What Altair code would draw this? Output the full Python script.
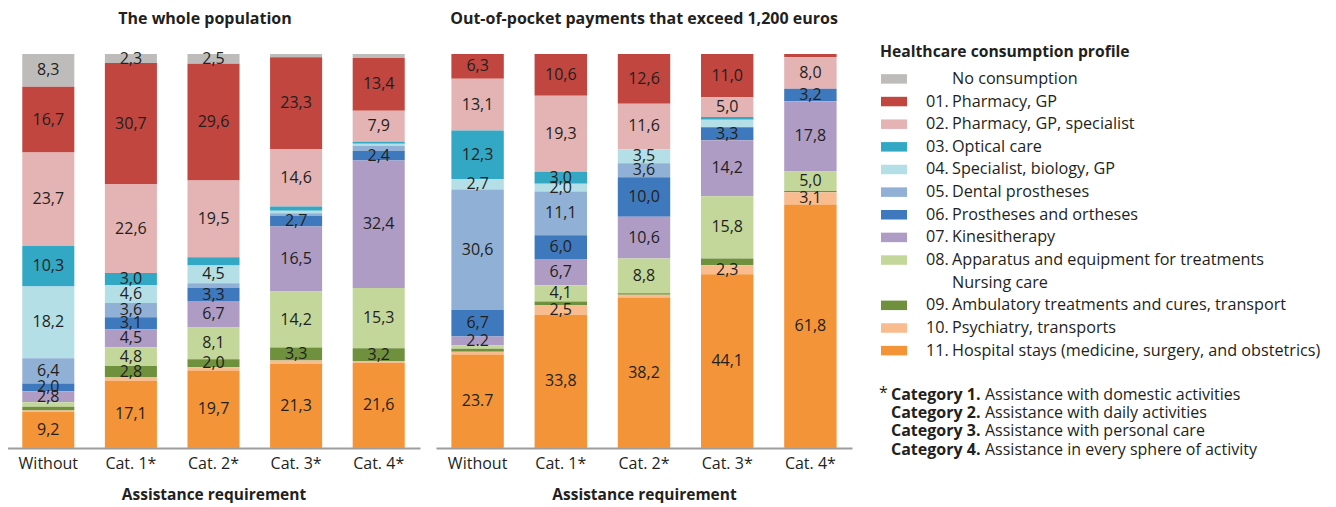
import altair as alt
import pandas as pd

FONT = "Open Sans"
INK = "#231f20"

# ---------------- categories / legend ----------------
PROFILE_NUMBERS = ["", "01.", "02.", "03.", "04.", "05.", "06.", "07.", "08.", "09.", "10.", "11."]
PROFILE_NAMES = [
    "No consumption",
    "Pharmacy, GP",
    "Pharmacy, GP, specialist",
    "Optical care",
    "Specialist, biology, GP",
    "Dental prostheses",
    "Prostheses and ortheses",
    "Kinesitherapy",
    "Apparatus and equipment for treatments",
    "Ambulatory treatments and cures, transport",
    "Psychiatry, transports",
    "Hospital stays (medicine, surgery, and obstetrics)",
]
CONTINUATION_TEXT = "Nursing care"  # second line of profile 08
PROFILES = [(n + " " + t).strip() for n, t in zip(PROFILE_NUMBERS, PROFILE_NAMES)]
COLORS = ["#bdbcbb", "#c0463f", "#e4b3b4", "#33a8c5", "#b4dfe7", "#90b0d6",
          "#3f79bd", "#ae9cc5", "#c3d79b", "#6f913d", "#f8bc8e", "#f39438"]

BARS = ["Without", "Cat. 1*", "Cat. 2*", "Cat. 3*", "Cat. 4*"]
PANEL_TITLES = ["The whole population", "Out-of-pocket payments that exceed 1,200 euros"]

# ---------------- The whole population (%) ----------------
WHOLE_WITHOUT = [8.3, 16.7, 23.7, 10.3, 18.2, 6.4, 2.0, 2.8, 1.1, 1.0, 0.3, 9.2]
WHOLE_CAT1 = [2.3, 30.7, 22.6, 3.0, 4.6, 3.6, 3.1, 4.5, 4.8, 2.8, 0.9, 17.1]
WHOLE_CAT2 = [2.5, 29.6, 19.5, 2.1, 4.5, 1.2, 3.3, 6.7, 8.1, 2.0, 0.8, 19.7]
WHOLE_CAT3 = [0.8, 23.3, 14.6, 1.1, 0.6, 0.7, 2.7, 16.5, 14.2, 3.3, 0.9, 21.3]
WHOLE_CAT4 = [1.0, 13.4, 7.9, 0.5, 0.5, 1.3, 2.4, 32.4, 15.3, 3.2, 0.5, 21.6]

WHOLE_LABELS_WITHOUT = ["8,3", "16,7", "23,7", "10,3", "18,2", "6,4", "2,0", "2,8", "", "", "", "9,2"]
WHOLE_LABELS_CAT1 = ["2,3", "30,7", "22,6", "3,0", "4,6", "3,6", "3,1", "4,5", "4,8", "2,8", "", "17,1"]
WHOLE_LABELS_CAT2 = ["2,5", "29,6", "19,5", "", "4,5", "", "3,3", "6,7", "8,1", "2,0", "", "19,7"]
WHOLE_LABELS_CAT3 = ["", "23,3", "14,6", "", "", "", "2,7", "16,5", "14,2", "3,3", "", "21,3"]
WHOLE_LABELS_CAT4 = ["", "13,4", "7,9", "", "", "", "2,4", "32,4", "15,3", "3,2", "", "21,6"]

# ---------------- Out-of-pocket payments > 1,200 euros (%) ----------------
OOP_WITHOUT = [0.0, 6.3, 13.1, 12.3, 2.7, 30.6, 6.7, 2.2, 0.9, 0.8, 0.7, 23.7]
OOP_CAT1 = [0.0, 10.6, 19.3, 3.0, 2.0, 11.1, 6.0, 6.7, 4.1, 0.9, 2.5, 33.8]
OOP_CAT2 = [0.0, 12.6, 11.6, 0.0, 3.5, 3.6, 10.0, 10.6, 8.8, 0.4, 0.7, 38.2]
OOP_CAT3 = [0.0, 11.0, 5.0, 0.7, 1.9, 0.0, 3.3, 14.2, 15.8, 1.7, 2.3, 44.1]
OOP_CAT4 = [0.0, 0.8, 8.0, 0.0, 0.0, 0.0, 3.2, 17.8, 5.0, 0.3, 3.1, 61.8]

OOP_LABELS_WITHOUT = ["", "6,3", "13,1", "12,3", "2,7", "30,6", "6,7", "2.2", "", "", "", "23.7"]
OOP_LABELS_CAT1 = ["", "10,6", "19,3", "3,0", "2,0", "11,1", "6,0", "6,7", "4,1", "", "2,5", "33,8"]
OOP_LABELS_CAT2 = ["", "12,6", "11,6", "", "3,5", "3,6", "10,0", "10,6", "8,8", "", "", "38,2"]
OOP_LABELS_CAT3 = ["", "11,0", "5,0", "", "", "", "3,3", "14,2", "15,8", "", "2,3", "44,1"]
OOP_LABELS_CAT4 = ["", "", "8,0", "", "", "", "3,2", "17,8", "5,0", "", "3,1", "61,8"]

FOOT_BOLD = ["Category 1.", "Category 2.", "Category 3.", "Category 4."]
FOOT_TEXT = ["Assistance with domestic activities", "Assistance with daily activities",
             "Assistance with personal care", "Assistance in every sphere of activity"]


def panel_frame(values_by_bar, labels_by_bar):
    rows = []
    for bar, vals, labs in zip(BARS, values_by_bar, labels_by_bar):
        starts = {}
        cum = 0.0
        for i in reversed(range(len(vals))):
            starts[i] = cum
            cum += vals[i]
        for i, (v, lab) in enumerate(zip(vals, labs)):
            if v <= 0:
                continue
            rows.append(dict(bar=bar, profile=PROFILES[i], y0=starts[i],
                             y1=starts[i] + v, mid=starts[i] + v / 2, label=lab))
    return pd.DataFrame(rows)


whole_df = panel_frame([WHOLE_WITHOUT, WHOLE_CAT1, WHOLE_CAT2, WHOLE_CAT3, WHOLE_CAT4],
                       [WHOLE_LABELS_WITHOUT, WHOLE_LABELS_CAT1, WHOLE_LABELS_CAT2,
                        WHOLE_LABELS_CAT3, WHOLE_LABELS_CAT4])
oop_df = panel_frame([OOP_WITHOUT, OOP_CAT1, OOP_CAT2, OOP_CAT3, OOP_CAT4],
                     [OOP_LABELS_WITHOUT, OOP_LABELS_CAT1, OOP_LABELS_CAT2,
                      OOP_LABELS_CAT3, OOP_LABELS_CAT4])

color = alt.Color("profile:N", scale=alt.Scale(domain=PROFILES, range=COLORS), legend=None)


def bar_layers(df, panel_title, title_x):
    x = alt.X("bar:N", sort=BARS,
              scale=alt.Scale(paddingInner=0.37, paddingOuter=0.185),
              axis=alt.Axis(title="Assistance requirement", labelAngle=0, ticks=False,
                            domainColor="#9d9d9d", domainWidth=2, labelFontSize=16,
                            labelColor=INK, labelFont=FONT, labelPadding=7,
                            titleFontSize=15.5, titleFontWeight="bold", titleColor=INK,
                            titleFont=FONT, titlePadding=16))
    yscale = alt.Scale(domain=[0, 100], nice=False)
    bars = alt.Chart(df).mark_bar().encode(
        x=x, y=alt.Y("y0:Q", scale=yscale, axis=None), y2="y1:Q", color=color)
    text = alt.Chart(df[df["label"] != ""]).mark_text(
        fontSize=16, color=INK, font=FONT, baseline="middle").encode(
        x=x, y=alt.Y("mid:Q", scale=yscale, axis=None), text="label:N")
    head = alt.Chart(pd.DataFrame({"t": [panel_title]})).mark_text(
        fontSize=16, fontWeight="bold", color=INK, font=FONT, align="center",
        baseline="middle").encode(x=alt.value(title_x), y=alt.value(-35), text="t:N")
    return bars, text, head


# ---------------- legend (drawn in the right panel, outside its plot) ----------------
leg_rows = []
for i, (num, name) in enumerate(zip(PROFILE_NUMBERS, PROFILE_NAMES)):
    leg_rows.append(dict(profile=PROFILES[i], number=num, name=name, row=i if i <= 8 else i + 1))
leg_df = pd.DataFrame(leg_rows)
leg_text_df = pd.concat([leg_df[["name", "row"]],
                         pd.DataFrame({"name": [CONTINUATION_TEXT], "row": [9]})])
leg_title_df = pd.DataFrame({"name": ["Healthcare consumption profile"], "row": [-1.19]})
foot_df = pd.DataFrame({"bold": FOOT_BOLD, "text": FOOT_TEXT,
                        "row": [13.95 + 0.81 * k for k in range(len(FOOT_BOLD))]})
star_df = pd.DataFrame({"star": ["*"], "row": [13.85]})

ly = alt.Y("row:Q", scale=alt.Scale(domain=[-1.1, 16.3], reverse=True, nice=False, zero=False),
           axis=None)
SYMBOL = "M-1,-0.365L1,-0.365L1,0.365L-1,0.365Z"

leg_sym = alt.Chart(leg_df).mark_point(shape=SYMBOL, filled=True, opacity=1, size=676,
                                       strokeWidth=0).encode(
    x=alt.value(458), y=ly, color=color)
leg_num = alt.Chart(leg_df).mark_text(align="left", baseline="middle", fontSize=16.2,
                                      font=FONT, color=INK).encode(
    x=alt.value(490), y=ly, text="number:N")
leg_txt = alt.Chart(leg_text_df).mark_text(align="left", baseline="middle", fontSize=16.2,
                                           font=FONT, color=INK).encode(
    x=alt.value(516), y=ly, text="name:N")
leg_title = alt.Chart(leg_title_df).mark_text(align="left", baseline="middle", fontSize=15.7,
                                              fontWeight="bold", font=FONT, color=INK).encode(
    x=alt.value(444), y=ly, text="name:N")
foot_star = alt.Chart(star_df).mark_text(align="left", baseline="middle", fontSize=16,
                                         font=FONT, color=INK).encode(
    x=alt.value(443), y=ly, text="star:N")
foot_bold = alt.Chart(foot_df).mark_text(align="left", baseline="middle", fontSize=16,
                                         fontWeight="bold", font=FONT, color=INK).encode(
    x=alt.value(455), y=ly, text="bold:N")
foot_txt = alt.Chart(foot_df).mark_text(align="left", baseline="middle", fontSize=16,
                                        font=FONT, color=INK).encode(
    x=alt.value(549), y=ly, text="text:N")

wb, wt, wh = bar_layers(whole_df, PANEL_TITLES[0], 198)
ob, ot, oh = bar_layers(oop_df, PANEL_TITLES[1], 208)

left = alt.layer(wb, wt, wh).properties(width=413, height=394)
right = alt.layer(ob, ot, oh, leg_sym, leg_num, leg_txt, leg_title, foot_star, foot_bold,
                  foot_txt).resolve_scale(y="independent").properties(width=416, height=394)

chart = alt.hconcat(left, right, spacing=16).properties(
    padding={"left": -1, "top": 3, "right": 0, "bottom": 0}
).configure(font=FONT, view=alt.ViewConfig(stroke=None))

chart.save("out.html", embed_options={"renderer": "svg", "actions": False})
